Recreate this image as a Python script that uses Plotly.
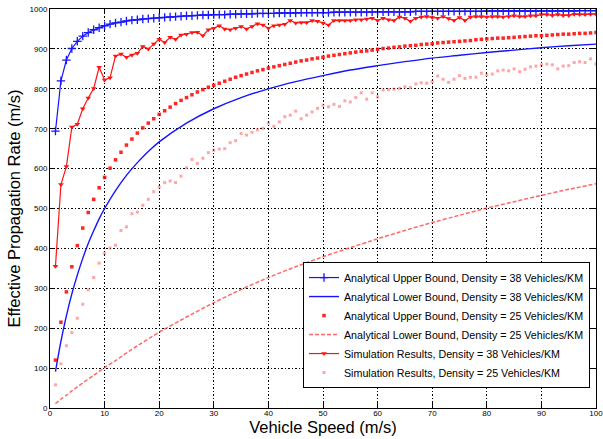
import plotly.graph_objects as go

# ---------------- data ----------------
speed = list(range(1, 101))

upper38 = [694, 820, 872, 901, 919, 932, 941, 948, 953, 958,
           962, 965, 967, 970, 972, 973, 975, 976, 977, 978,
           979, 980, 981, 982, 983, 983, 984, 985, 985, 986,
           986, 986, 987, 987, 988, 988, 988, 989, 989, 989,
           989, 990, 990, 990, 990, 991, 991, 991, 991, 991,
           991, 992, 992, 992, 992, 992, 992, 992, 993, 993,
           993, 993, 993, 993, 993, 993, 994, 994, 994, 994,
           994, 994, 994, 994, 994, 994, 994, 994, 994, 995,
           995, 995, 995, 995, 995, 995, 995, 995, 995, 995,
           995, 995, 995, 995, 995, 995, 996, 996, 996, 996]

lower38_x = [1, 2, 3, 4, 5, 6, 7, 8, 9, 10, 12, 14, 16, 18, 20, 25, 30, 35, 40,
             45, 50, 55, 60, 65, 70, 75, 80, 85, 90, 95, 100]
lower38 = [91, 167, 231, 286, 333, 375, 412, 444, 474, 500, 545, 583, 615, 643, 667,
           714, 750, 778, 800, 818, 833, 847, 858, 868, 877, 884, 891, 897, 903, 908, 912]

upper25 = [120, 215, 291, 354, 407, 451, 490, 523, 552, 578,
           601, 622, 641, 659, 674, 689, 702, 714, 725, 736,
           745, 754, 763, 771, 778, 785, 792, 798, 804, 809,
           814, 819, 824, 829, 833, 837, 841, 845, 848, 852,
           855, 858, 861, 864, 867, 870, 872, 875, 877, 879,
           882, 884, 886, 888, 890, 892, 894, 895, 897, 899,
           901, 902, 904, 905, 907, 908, 909, 911, 912, 913,
           915, 916, 917, 918, 919, 920, 921, 923, 924, 925,
           926, 927, 927, 928, 929, 930, 931, 932, 933, 933,
           934, 935, 936, 937, 937, 938, 939, 939, 940, 941]

lower25_x = [1, 2, 3, 4, 5, 6, 8, 10, 12, 15, 20, 25, 30, 35, 40, 45, 50, 55, 60,
             65, 70, 75, 80, 85, 90, 95, 100]
lower25 = [11, 22, 32, 43, 53, 63, 82, 101, 119, 147, 190, 228, 264, 297, 327, 354,
           379, 402, 424, 445, 465, 483, 501, 517, 533, 548, 562]

sim38 = [355, 560, 605, 704, 711, 750, 777, 801, 854, 822,
         828, 882, 887, 879, 885, 889, 906, 900, 912, 924,
         916, 929, 924, 935, 937, 941, 942, 933, 948, 952,
         958, 950, 948, 952, 956, 950, 956, 963, 960, 952,
         958, 960, 962, 971, 965, 966, 966, 971, 969, 965,
         960, 971, 971, 971, 971, 973, 973, 975, 977, 971,
         977, 973, 971, 980, 977, 969, 977, 980, 981, 979,
         977, 981, 976, 971, 979, 971, 980, 981, 981, 980,
         981, 981, 980, 981, 983, 981, 981, 983, 983, 986,
         986, 984, 986, 984, 984, 987, 986, 986, 987, 987]

sim25 = [58, 111, 156, 189, 225, 260, 296, 327, 363, 388,
         401, 408, 445, 454, 487, 491, 508, 523, 542, 554,
         565, 569, 565, 581, 602, 623, 613, 626, 640, 646,
         649, 650, 665, 670, 688, 684, 691, 697, 701, 714,
         706, 717, 730, 734, 744, 725, 734, 742, 751, 759,
         755, 761, 756, 770, 767, 778, 790, 774, 790, 780,
         797, 798, 799, 801, 805, 803, 812, 815, 814, 818,
         832, 824, 816, 824, 833, 826, 829, 829, 839, 835,
         837, 845, 847, 845, 850, 843, 849, 855, 857, 860,
         862, 860, 850, 857, 858, 866, 868, 866, 875, 862]

x_ticks = list(range(0, 101, 10))
y_ticks = list(range(0, 1001, 100))

names = [
    "Analytical Upper Bound, Density = 38 Vehicles/KM",
    "Analytical Lower Bound, Density = 38 Vehicles/KM",
    "Analytical Upper Bound, Density = 25 Vehicles/KM",
    "Analytical Lower Bound, Density = 25 Vehicles/KM",
    "Simulation Results, Density = 38 Vehicles/KM",
    "Simulation Results, Density = 25 Vehicles/KM",
]

BLUE = "#1414ff"
RED = "#ff1414"
FONT = "Liberation Sans, Arial, Helvetica, sans-serif"

fig = go.Figure()

fig.add_trace(go.Scatter(
    x=speed, y=upper38, name=names[0], mode="lines+markers",
    line=dict(color=BLUE, width=1.2),
    marker=dict(symbol="cross-thin", size=6, line=dict(color=BLUE, width=1.3))))

fig.add_trace(go.Scatter(
    x=lower38_x, y=lower38, name=names[1], mode="lines",
    line=dict(color=BLUE, width=1.4, shape="spline", smoothing=0.8)))

fig.add_trace(go.Scatter(
    x=speed, y=upper25, name=names[2], mode="markers",
    marker=dict(symbol="square", size=3.5, color="rgba(255,0,0,0.85)")))

fig.add_trace(go.Scatter(
    x=lower25_x, y=lower25, name=names[3], mode="lines",
    line=dict(color="rgba(255,40,40,0.7)", width=1.5, dash="4px,2px",
              shape="spline", smoothing=0.6)))

fig.add_trace(go.Scatter(
    x=speed, y=sim38, name=names[4], mode="lines+markers",
    line=dict(color=RED, width=1.2),
    marker=dict(symbol="triangle-down", size=5, color=RED)))

fig.add_trace(go.Scatter(
    x=speed, y=sim25, name=names[5], mode="markers",
    marker=dict(symbol="square", size=3, color="rgba(255,60,60,0.45)")))

axis_common = dict(
    showline=True, linecolor="black", linewidth=1, mirror="allticks",
    ticks="inside", ticklen=5, tickcolor="black", tickwidth=1,
    showgrid=True, gridcolor="black", griddash="1.5px,2px", gridwidth=1,
    zeroline=False, automargin=False, ticklabeloverflow="allow",
    tickfont=dict(size=8, color="black", family=FONT),
)

fig.update_layout(
    width=603, height=439,
    margin=dict(l=50, r=7, t=9, b=31),
    paper_bgcolor="white", plot_bgcolor="white",
    font=dict(family=FONT, color="black"),
    xaxis=dict(range=[0, 100], tickvals=x_ticks, ticklabelstandoff=-3,
               title=dict(text="Vehicle Speed (m/s)", font=dict(size=16.5), standoff=0),
               **axis_common),
    yaxis=dict(range=[0, 1000], tickvals=y_ticks,
               title=dict(text="Effective Propagation Rate (m/s)", font=dict(size=16.5),
                          standoff=4),
               **axis_common),
    legend=dict(x=0.989, xanchor="right", y=0.05, yanchor="bottom",
                bgcolor="white", bordercolor="black", borderwidth=1,
                font=dict(size=10.7, color="black"), itemwidth=30,
                tracegroupgap=0),
    showlegend=True,
)

fig.write_html("out.html",
               config={"displayModeBar": False},
               post_script="document.body.style.margin='0px';")
